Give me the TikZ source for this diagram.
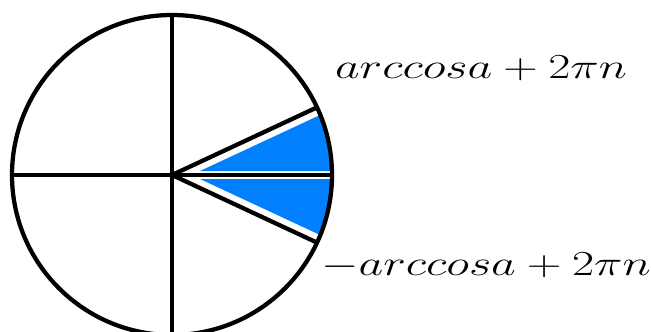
\documentclass[tikz,border=0pt]{standalone}
\usetikzlibrary{calc}
\definecolor{wedgeblue}{RGB}{0,128,255}
\begin{document}
\begin{tikzpicture}[x=0.75pt,y=-0.75pt,
  stroke/.style={line width=3.2pt,black},
  lbl/.style={inner sep=0pt,anchor=base,font=\fontsize{24.88}{30}\selectfont}]
\useasboundingbox (0,0) rectangle (651,332);
\coordinate (O) at (172,175);
\begin{scope}
  \clip (O) circle (159);
  \fill[wedgeblue] (200,171) -- (345,103.4) -- (345,171) -- cycle;
  \fill[wedgeblue] (200,179) -- (345,246.6) -- (345,179) -- cycle;
\end{scope}
\draw[stroke] (O) circle (160);
\draw[stroke] (172,15) -- (172,335);
\draw[stroke] (12,175) -- (332,175);
\draw[stroke] (O) -- ($(O)+(160*0.9063,-160*0.4226)$);
\draw[stroke] (O) -- ($(O)+(160*0.9063,160*0.4226)$);
\node[lbl] (t1) at (481,78) {\scalebox{1.45}[1.06]{$arccosa+2\pi n$}};
\node[lbl] (t2) at (486,275) {\scalebox{1.45}[1.06]{$-arccosa+2\pi n$}};
\end{tikzpicture}
\end{document}
